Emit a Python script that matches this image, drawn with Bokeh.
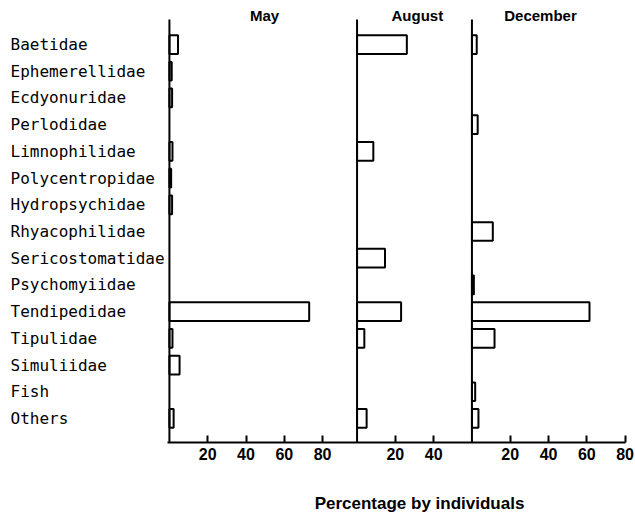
from bokeh.plotting import figure
from bokeh.models import Range1d, FixedTicker, ColumnDataSource, Label
from bokeh.layouts import row, column
from bokeh.core.properties import value
from bokeh.embed import file_html
from bokeh.resources import INLINE

categories = ["Baetidae", "Ephemerellidae", "Ecdyonuridae", "Perlodidae",
              "Limnophilidae", "Polycentropidae", "Hydropsychidae",
              "Rhyacophilidae", "Sericostomatidae", "Psychomyiidae",
              "Tendipedidae", "Tipulidae", "Simuliidae", "Fish", "Others"]
months = ["May", "August", "December"]
may = [4.5, 1.2, 1.4, 0, 1.6, 0.9, 1.4, 0, 0, 0, 73, 1.6, 5.3, 0, 2.2]
august = [26, 0, 0, 0, 8.5, 0, 0, 0, 14.6, 0, 23, 3.8, 0, 0, 5]
december = [2.5, 0, 0, 3, 0, 0, 0, 10.9, 0, 1, 61.4, 11.8, 0, 1.7, 3.4]
panel_ticks = [[20, 40, 60, 80], [20, 40], [20, 40, 60, 80]]
x_title = "Percentage by individuals"

# layout: panel offsets on one shared x axis
offsets = [0, 98, 158]
series = [may, august, december]
n = len(categories)
rows = [n - 1 - i for i in range(n)]

H = 472
yr = Range1d(-0.9, 15.35)

# left figure holding the left-aligned category names
lf = figure(width=167, height=H, output_backend="svg", toolbar_location=None,
            x_range=Range1d(0, 167), y_range=yr,
            x_axis_location=None, y_axis_location=None,
            min_border_left=0, min_border_right=0,
            min_border_top=8, min_border_bottom=30)
lf.grid.visible = False
lf.outline_line_color = None
lf.text(x=[10] * n, y=rows, text=categories, text_align="left",
        text_baseline="middle", text_font=value("DejaVu Sans Mono"),
        text_font_size="16px", text_color="black")

p = figure(width=467, height=H, output_backend="svg", toolbar_location=None,
           x_range=Range1d(-1, 238.2), y_range=yr,
           y_axis_location=None, min_border_left=0, min_border_right=9,
           min_border_top=8, min_border_bottom=30)
p.grid.visible = False
p.outline_line_color = None
p.background_fill_color = "white"

# bars
ys, lefts, rights = [], [], []
for off, vals in zip(offsets, series):
    for r, v in zip(rows, vals):
        if v > 0:
            ys.append(r)
            lefts.append(off)
            rights.append(off + v)
bars = ColumnDataSource(dict(y=ys, left=lefts, right=rights))
p.hbar(y="y", left="left", right="right", height=0.7, source=bars,
       fill_color="white", line_color="black", line_width=2)

# panel baselines
p.segment(x0=offsets, y0=[-0.9] * 3, x1=offsets, y1=[14.94] * 3,
          line_color="black", line_width=2)

# x axis with repeated tick labels per panel
ticks, overrides = [], {}
for off, tl in zip(offsets, panel_ticks):
    for t in tl:
        ticks.append(off + t)
        overrides[off + t] = str(t)
ax = p.xaxis[0]
ax.ticker = FixedTicker(ticks=ticks, minor_ticks=[])
ax.major_label_overrides = overrides
ax.axis_line_width = 2
ax.major_tick_in = 7
ax.major_tick_out = 0
ax.major_tick_line_width = 2
ax.minor_tick_line_color = None
ax.major_label_standoff = 5
ax.major_label_text_font = "Liberation Sans"
ax.major_label_text_font_style = "bold"
ax.major_label_text_font_size = "16px"
ax.major_label_text_color = "black"

# month titles
title_x = [49.7, 129.5, 193.8]
for m, tx in zip(months, title_x):
    p.add_layout(Label(x=tx, y=15.09, text=m, text_align="center",
                       text_baseline="middle", text_font="Liberation Sans",
                       text_font_style="bold", text_font_size="15px",
                       text_color="black"))

# bottom strip holding the x-axis title
bf = figure(width=634, height=44, output_backend="svg", toolbar_location=None,
            x_range=Range1d(0, 634), y_range=Range1d(0, 44),
            x_axis_location=None, y_axis_location=None,
            min_border=0)
bf.grid.visible = False
bf.outline_line_color = None
bf.text(x=[419], y=[13], text=[x_title], text_align="center",
        text_baseline="alphabetic", text_font=value("Liberation Sans"),
        text_font_style="bold", text_font_size="17px", text_color="black")

layout = column(row(lf, p, spacing=0), bf, spacing=0)
open("out.html", "w").write(file_html(layout, INLINE))
